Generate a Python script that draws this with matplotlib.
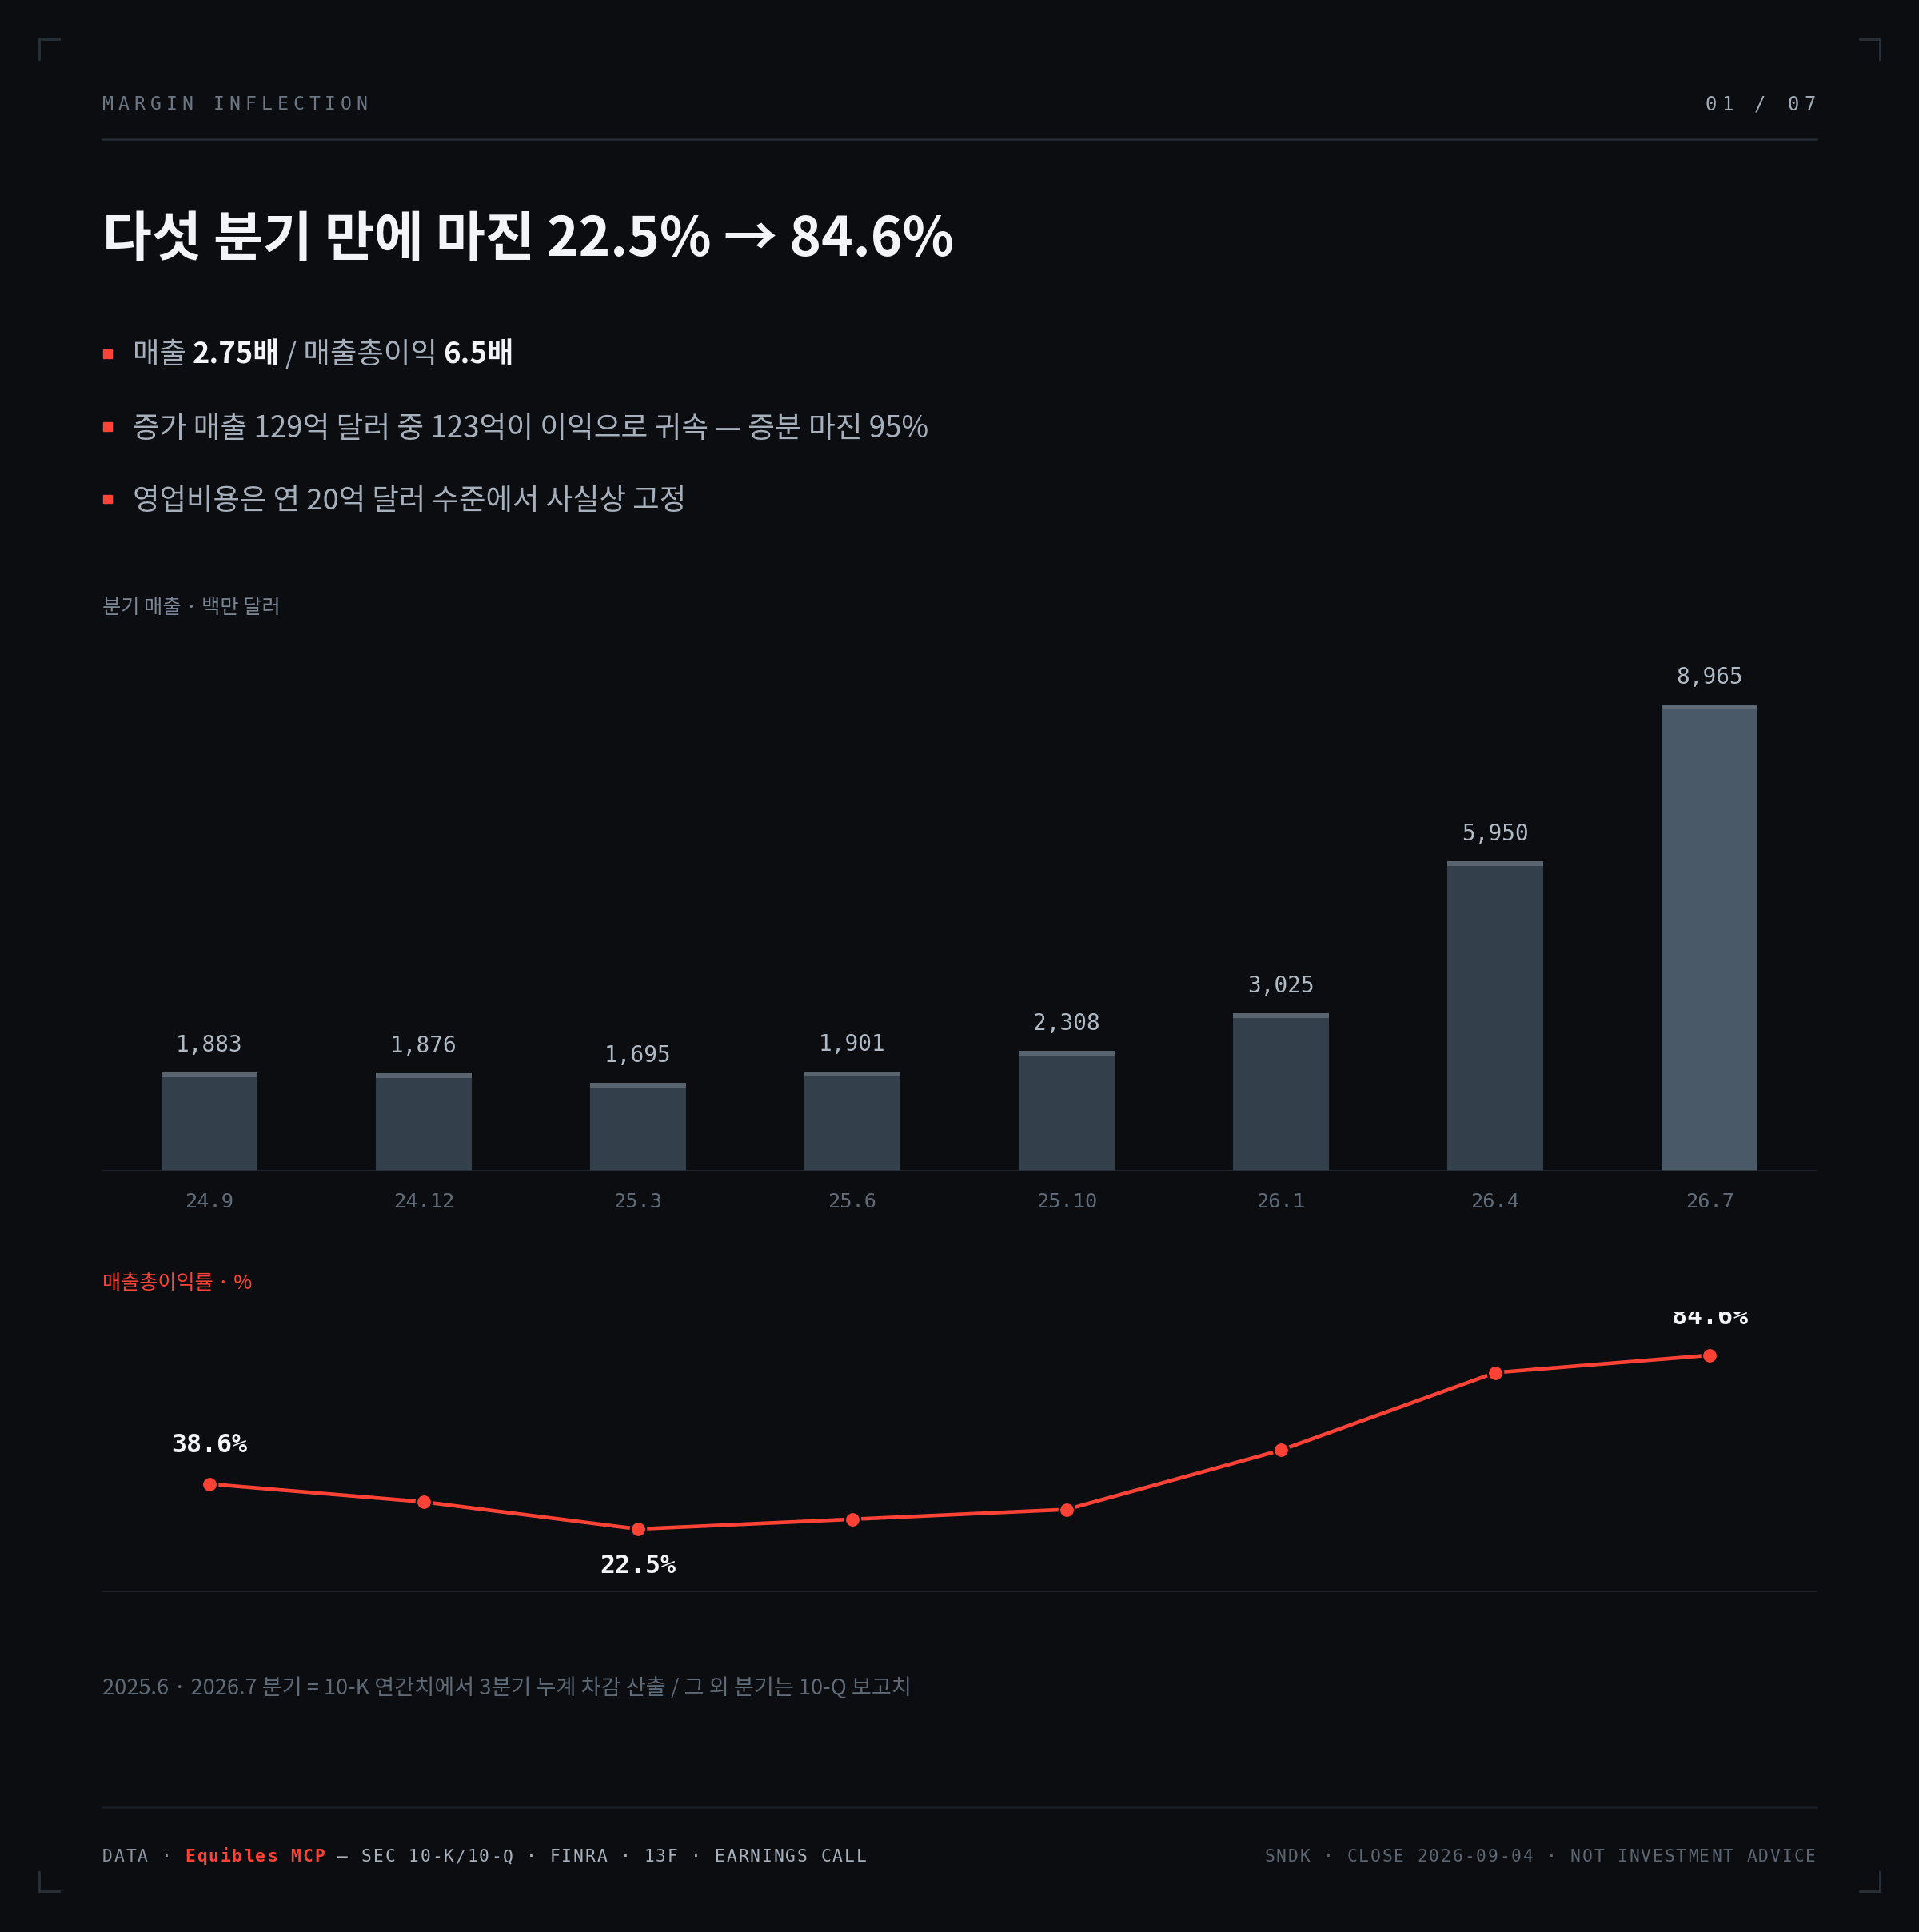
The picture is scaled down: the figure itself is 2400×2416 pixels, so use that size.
import matplotlib
matplotlib.use('Agg')
import matplotlib.pyplot as plt
from matplotlib.lines import Line2D
from matplotlib.patches import Rectangle

# ---------------- data ----------------
quarters = ['24.9', '24.12', '25.3', '25.6', '25.10', '26.1', '26.4', '26.7']
revenue = [1883, 1876, 1695, 1901, 2308, 3025, 5950, 8965]
gross_margin = [38.6, 32.2, 22.5, 26.0, 29.5, 50.7, 78.4, 84.6]

title = '다섯 분기 만에 마진 22.5% → 84.6%'
bullet1 = [('매출', 'g', 'normal'), ('2.75배', 'w', 'bold'), ('/ 매출총이익', 'g', 'normal'), ('6.5배', 'w', 'bold')]
bullet2 = '증가 매출 129억 달러 중 123억이 이익으로 귀속 — 증분 마진 95%'
bullet3 = '영업비용은 연 20억 달러 수준에서 사실상 고정'
bar_caption = '분기 매출 · 백만 달러'
line_caption = '매출총이익률 · %'
footnote = '2025.6 · 2026.7 분기 = 10-K 연간치에서 3분기 누계 차감 산출 / 그 외 분기는 10-Q 보고치'
kicker = 'MARGIN INFLECTION'
page = '01 / 07'
footer_left = [('DATA · ', '#8a95a2', 'normal'), ('Equibles MCP', '#ff4236', 'bold'),
               (' — SEC 10-K/10-Q · FINRA · 13F · EARNINGS CALL', '#a7b1bc', 'normal')]
footer_right = 'SNDK · CLOSE 2026-09-04 · NOT INVESTMENT ADVICE'

# ---------------- style ----------------
BG = '#0b0d11'
RED = '#ff4236'
GRAY = '#a6b0bc'
WHITE = '#f2f4f7'
RULE = '#262c35'
KR = ['Noto Sans CJK KR', 'DejaVu Sans']
MONO = ['DejaVu Sans Mono']

W, H = 1558.0, 1568.0          # design coordinates (display px)
K = 2400 / W * 0.72            # design px -> points at dpi 100


def fx(x):
    return x / W


def fy(y):
    return 1 - y / H


def fs(px):
    return px * K


fig = plt.figure(figsize=(24, 24.16), dpi=100, facecolor=BG)
renderer = fig.canvas.get_renderer()
FIGW = fig.get_figwidth() * fig.dpi


def mono(x, y, s, pitch, size, color, weight='normal', ha='left'):
    em = size
    if ha == 'right':
        x = x - (len(s) - 1) * pitch - 0.602 * em
    for i, ch in enumerate(s):
        if ch == ' ':
            continue
        fig.text(fx(x + i * pitch), fy(y), ch, family=MONO, fontsize=fs(size),
                 color=color, weight=weight, ha='left', va='center')
    return x + len(s) * pitch


def rich(x, y, parts, size, gap):
    cx = fx(x)
    for txt, col, wt in parts:
        t = fig.text(cx, fy(y), txt, family=KR, fontsize=fs(size), color=col,
                     weight=wt, ha='left', va='center')
        bb = t.get_window_extent(renderer)
        cx = bb.x1 / FIGW + fx(gap)


# corner marks
for (cx, cy, dx, dy) in [(32, 32, 1, 1), (1526, 32, -1, 1), (32, 1535, 1, -1), (1526, 1535, -1, -1)]:
    fig.add_artist(Line2D([fx(cx), fx(cx + 16 * dx)], [fy(cy), fy(cy)], color='#2a3038', lw=2))
    fig.add_artist(Line2D([fx(cx), fx(cx)], [fy(cy), fy(cy + 16 * dy)], color='#2a3038', lw=2))

# header
mono(83, 85, kicker, 12.9, 15, '#6b7785')
mono(1474, 85, page, 13.4, 15.5, '#a3adb9', ha='right')
fig.add_artist(Line2D([fx(83), fx(1475)], [fy(113), fy(113)], color=RULE, lw=1.8))

# title
fig.text(fx(83), fy(195), title, family=KR, fontsize=fs(43.7), weight='bold', color=WHITE,
         ha='left', va='center')

# bullets
for yy in (287, 346, 405):
    fig.add_artist(Rectangle((fx(84), fy(yy + 3.5)), fx(7), 7 / H, color=RED, transform=fig.transFigure))
cmap = {'g': GRAY, 'w': WHITE}
rich(108, 288, [(t, cmap[c], w) for t, c, w in bullet1], 23.6, 4.5)
fig.text(fx(108), fy(348), bullet2, family=KR, fontsize=fs(23.8), color=GRAY, ha='left', va='center')
fig.text(fx(108), fy(407), bullet3, family=KR, fontsize=fs(23.6), color=GRAY, ha='left', va='center')

# captions
fig.text(fx(83), fy(493.5), bar_caption, family=KR, fontsize=fs(16.4), color='#7b8694', ha='left', va='center')
fig.text(fx(83), fy(1041.5), line_caption, family=KR, fontsize=fs(16.3), color=RED, ha='left', va='center',
         weight='medium')

# ---------------- bar chart ----------------
x = list(range(len(quarters)))
ax1 = fig.add_axes([fx(83), fy(950), fx(1475) - fx(83), (950 - 530) / H])
ax1.set_facecolor('none')
ax1.set_xlim(-0.5, len(quarters) - 0.5)
ymax = 8965 * 1.11
ax1.set_ylim(0, ymax)
bar_colors = ['#343f4c'] * (len(quarters) - 1) + ['#4a5968']
cap_colors = ['#59646f'] * (len(quarters) - 1) + ['#5f6b78']
ax1.bar(x, revenue, width=0.45, color=bar_colors, zorder=2)
cap = ymax * 4.0 / (950 - 530)
ax1.bar(x, [cap] * len(x), bottom=[v - cap for v in revenue], width=0.45, color=cap_colors, zorder=3)
for xi, v in zip(x, revenue):
    ax1.annotate(f'{v:,}', (xi, v), xytext=(0, fs(22)), textcoords='offset points',
                 ha='center', va='center', family=MONO, fontsize=fs(18), color='#b0bac5')
for s in ax1.spines.values():
    s.set_visible(False)
ax1.axhline(0, color=RULE, lw=1.8, zorder=4)
ax1.set_xticks(x)
ax1.set_xticklabels(quarters, family=MONO, fontsize=fs(16.5), color='#5f6b78')
ax1.tick_params(axis='x', length=0, pad=fs(17.5))
ax1.set_yticks([])

# ---------------- line chart ----------------
ax2 = fig.add_axes([fx(83), fy(1292), fx(1475) - fx(83), (1292 - 1065) / H])
ax2.set_facecolor('none')
ax2.set_xlim(-0.5, len(quarters) - 0.5)
ax2.set_ylim(0, 100)
ax2.plot(x, gross_margin, color=RED, lw=fs(3), zorder=3, solid_capstyle='round')
ax2.plot(x, gross_margin, 'o', color=RED, ms=fs(12.5), mec=BG, mew=fs(1.6), zorder=4)
imin = gross_margin.index(min(gross_margin))
for i, off in [(0, 31), (imin, -30), (len(x) - 1, 31)]:
    ax2.annotate(f'{gross_margin[i]:.1f}%', (x[i], gross_margin[i]), xytext=(0, fs(off)),
                 textcoords='offset points', ha='center', va='center', family=MONO,
                 fontsize=fs(20.5), weight='bold', color=WHITE, annotation_clip=False,
                 clip_on=True)
for s in ax2.spines.values():
    s.set_visible(False)
ax2.axhline(0, color=RULE, lw=1.8, zorder=2)
ax2.set_xticks([])
ax2.set_yticks([])

# footnote
fig.text(fx(83), fy(1370), footnote, family=KR, fontsize=fs(17.6), color='#5f6a77', ha='left', va='center')

# footer
fig.add_artist(Line2D([fx(83), fx(1475)], [fy(1467), fy(1467)], color='#1a1f26', lw=1.8))
cx = 83
for txt, col, wt in footer_left:
    cx = mono(cx, 1507, txt, 9.56, 13.8, col, weight=wt)
mono(1474, 1507, footer_right, 9.55, 13.8, '#5c6673', ha='right')

fig.savefig('out.png', dpi=100, facecolor=BG)
